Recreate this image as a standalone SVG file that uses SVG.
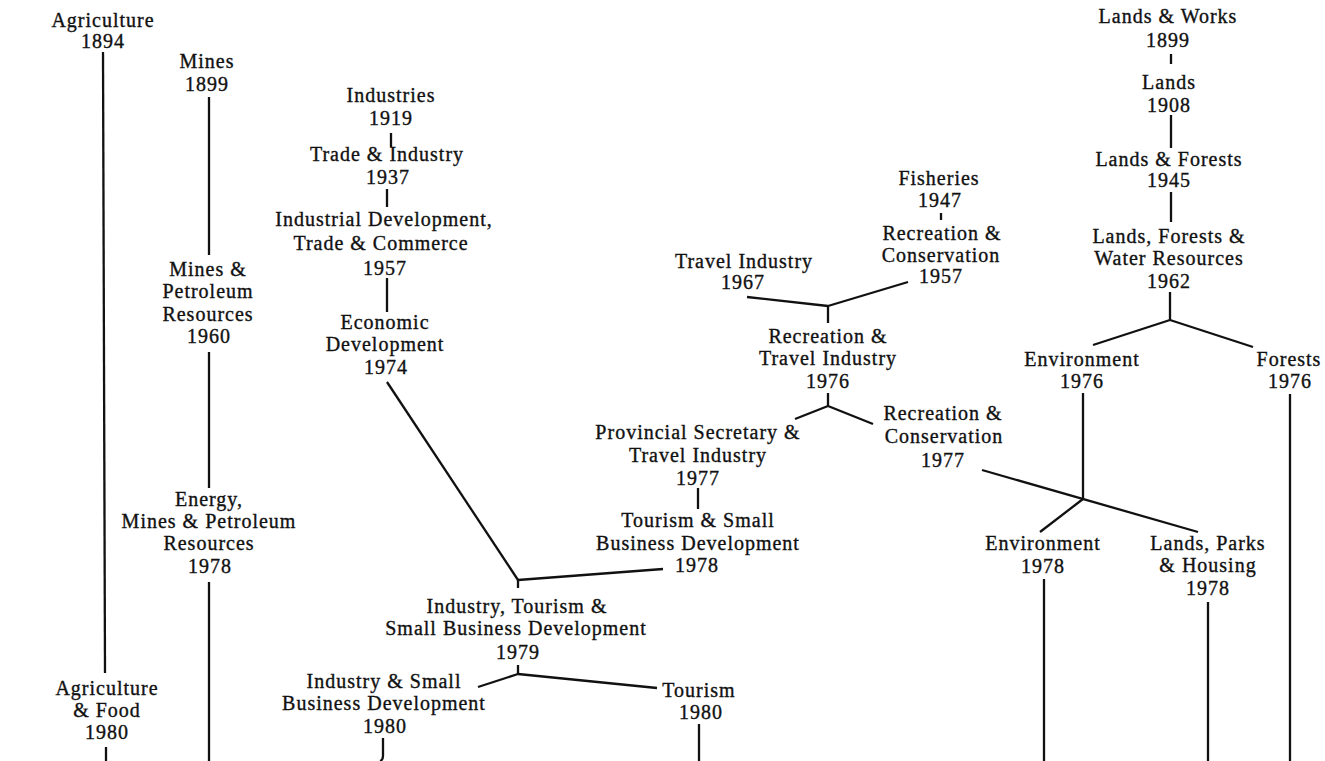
<svg xmlns="http://www.w3.org/2000/svg" width="1325" height="761" viewBox="0 0 1325 761">
<style>
text{font-family:"Liberation Serif","Times New Roman",serif;font-size:20px;letter-spacing:1px;fill:#111;stroke:#111;stroke-width:0.35;text-anchor:middle}
.c line,.c path{stroke:#111;stroke-width:2.3;fill:none;stroke-linecap:butt}
</style>
<rect width="1325" height="761" fill="#fff"/>
<g class="c" id="connectors">
<line x1="103" y1="52" x2="105" y2="673"/>
<line x1="106" y1="747" x2="106" y2="761"/>
<line x1="209" y1="97" x2="209" y2="255"/>
<line x1="209" y1="352" x2="209" y2="488"/>
<line x1="209" y1="582" x2="209" y2="761"/>
<line x1="391" y1="133" x2="391" y2="147"/>
<line x1="387" y1="189" x2="387" y2="207"/>
<line x1="387" y1="278" x2="387" y2="312"/>
<line x1="387" y1="382" x2="518" y2="580"/>
<line x1="518" y1="580" x2="663" y2="569"/>
<line x1="518" y1="580" x2="518" y2="588"/>
<line x1="518" y1="665" x2="518" y2="674"/>
<line x1="518" y1="674" x2="478" y2="687"/>
<line x1="518" y1="674" x2="657" y2="688"/>
<path d="M383,738 L383,756 Q383,760 380,761"/>
<line x1="699" y1="724" x2="699" y2="761"/>
<line x1="747" y1="297" x2="828" y2="306"/>
<line x1="828" y1="306" x2="908" y2="282"/>
<line x1="828" y1="306" x2="828" y2="323"/>
<line x1="828" y1="393" x2="828" y2="406"/>
<line x1="828" y1="406" x2="795" y2="419"/>
<line x1="828" y1="406" x2="873" y2="424"/>
<line x1="698" y1="488" x2="698" y2="509"/>
<line x1="941" y1="213" x2="941" y2="220"/>
<line x1="1171" y1="54" x2="1171" y2="64"/>
<line x1="1171" y1="115" x2="1171" y2="148"/>
<line x1="1171" y1="192" x2="1171" y2="222"/>
<line x1="1170" y1="292" x2="1170" y2="320"/>
<line x1="1170" y1="320" x2="1093" y2="345"/>
<line x1="1170" y1="320" x2="1253" y2="347"/>
<line x1="1083" y1="393" x2="1083" y2="499"/>
<line x1="1290" y1="394" x2="1290" y2="761"/>
<line x1="982" y1="470" x2="1198" y2="532"/>
<line x1="1083" y1="499" x2="1040" y2="532"/>
<line x1="1044" y1="579" x2="1044" y2="761"/>
<line x1="1208" y1="602" x2="1208" y2="761"/>
</g>
<g id="agriculture-1894"><text x="103" y="27">Agriculture</text><text x="103" y="48">1894</text></g>
<g id="agriculture-food-1980"><text x="107" y="695">Agriculture</text><text x="107" y="717">&amp; Food</text><text x="107" y="739">1980</text></g>
<g id="mines-1899"><text x="207" y="68">Mines</text><text x="207" y="91">1899</text></g>
<g id="mines-petroleum-1960"><text x="208" y="276">Mines &amp;</text><text x="208" y="298">Petroleum</text><text x="208" y="321">Resources</text><text x="209" y="343">1960</text></g>
<g id="energy-1978"><text x="209" y="506">Energy,</text><text x="209" y="528">Mines &amp; Petroleum</text><text x="209" y="550">Resources</text><text x="210" y="573">1978</text></g>
<g id="industries-1919"><text x="391" y="102">Industries</text><text x="391" y="125">1919</text></g>
<g id="trade-industry-1937"><text x="387" y="161">Trade &amp; Industry</text><text x="388" y="184">1937</text></g>
<g id="industrial-development-1957"><text x="384" y="226">Industrial Development,</text><text x="381" y="250">Trade &amp; Commerce</text><text x="385" y="275">1957</text></g>
<g id="economic-development-1974"><text x="385" y="329">Economic</text><text x="385" y="351">Development</text><text x="386" y="374">1974</text></g>
<g id="industry-tourism-1979"><text x="517" y="613">Industry, Tourism &amp;</text><text x="516" y="635">Small Business Development</text><text x="518" y="659">1979</text></g>
<g id="industry-small-business-1980"><text x="384" y="688">Industry &amp; Small</text><text x="384" y="710">Business Development</text><text x="385" y="733">1980</text></g>
<g id="tourism-1980"><text x="699" y="697">Tourism</text><text x="701" y="719">1980</text></g>
<g id="travel-industry-1967"><text x="744" y="268">Travel Industry</text><text x="743" y="289">1967</text></g>
<g id="fisheries-1947"><text x="939" y="185">Fisheries</text><text x="940" y="207">1947</text></g>
<g id="recreation-conservation-1957"><text x="942" y="240">Recreation &amp;</text><text x="941" y="262">Conservation</text><text x="941" y="283">1957</text></g>
<g id="recreation-travel-1976"><text x="828" y="343">Recreation &amp;</text><text x="828" y="365">Travel Industry</text><text x="828" y="388">1976</text></g>
<g id="provincial-secretary-1977"><text x="698" y="439">Provincial Secretary &amp;</text><text x="698" y="462">Travel Industry</text><text x="698" y="485">1977</text></g>
<g id="recreation-conservation-1977"><text x="943" y="420">Recreation &amp;</text><text x="944" y="443">Conservation</text><text x="943" y="467">1977</text></g>
<g id="tourism-small-business-1978"><text x="698" y="527">Tourism &amp; Small</text><text x="698" y="550">Business Development</text><text x="697" y="572">1978</text></g>
<g id="lands-works-1899"><text x="1168" y="23">Lands &amp; Works</text><text x="1168" y="47">1899</text></g>
<g id="lands-1908"><text x="1169" y="89">Lands</text><text x="1169" y="112">1908</text></g>
<g id="lands-forests-1945"><text x="1169" y="166">Lands &amp; Forests</text><text x="1169" y="187">1945</text></g>
<g id="lands-forests-water-1962"><text x="1169" y="243">Lands, Forests &amp;</text><text x="1169" y="265">Water Resources</text><text x="1169" y="288">1962</text></g>
<g id="environment-1976"><text x="1082" y="366">Environment</text><text x="1082" y="388">1976</text></g>
<g id="forests-1976"><text x="1289" y="366">Forests</text><text x="1290" y="388">1976</text></g>
<g id="environment-1978"><text x="1043" y="550">Environment</text><text x="1043" y="573">1978</text></g>
<g id="lands-parks-housing-1978"><text x="1208" y="550">Lands, Parks</text><text x="1208" y="572">&amp; Housing</text><text x="1208" y="595">1978</text></g>
</svg>
